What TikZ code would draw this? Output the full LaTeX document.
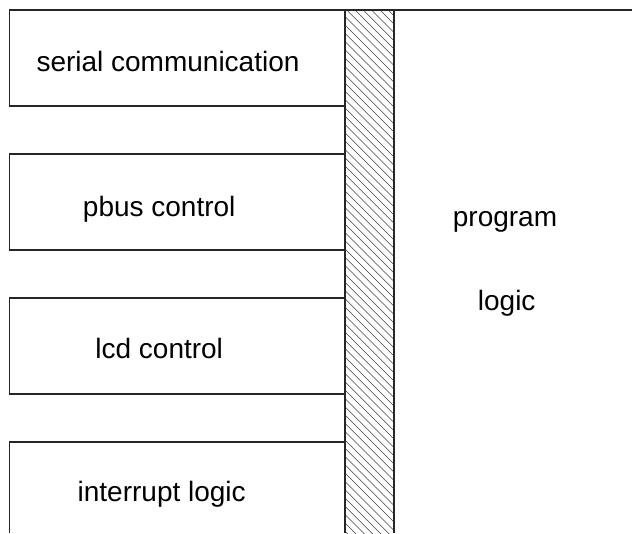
\documentclass[tikz,border=0pt]{standalone}
\usepackage{fontspec}
\setmainfont{Liberation Sans}
\begin{document}
\begin{tikzpicture}[x=1pt,y=-1pt,
  edge/.style={draw=black!85,line width=1.2pt},
  hatch/.style={draw=black!75,line width=0.55pt},
  lbl/.style={anchor=base,inner sep=0pt,font=\fontsize{28}{34}\selectfont}]
\useasboundingbox (0,0) rectangle (632,533);
% hatched bar
\begin{scope}
\clip (345,10) rectangle (394,533);
\foreach \k in {-66,...,6}
  \draw[hatch] ({346.7+8.3*\k},10) -- ++(540,540);
\end{scope}
% top line and bar edges
\draw[edge] (9.5,10) -- (632,10);
\draw[edge] (345,10) -- (345,533);
\draw[edge] (394,10) -- (394,533);
% boxes
\draw[edge] (345,10) -- (9.5,10) -- (9.5,106) -- (345,106);
\draw[edge] (345,154) -- (9.5,154) -- (9.5,250) -- (345,250);
\draw[edge] (345,298) -- (9.5,298) -- (9.5,394) -- (345,394);
\draw[edge] (345,442) -- (9.5,442) -- (9.5,533);
% labels
\node[lbl] (serial) at (168,71) {serial communication};
\node[lbl] (pbus) at (159.2,216) {pbus control};
\node[lbl] (lcd) at (159.2,358.3) {lcd control};
\node[lbl] (intr) at (161.7,501.7) {interrupt logic};
\node[lbl] (prog) at (505,226) {program};
\node[lbl] (logic) at (506.7,310) {logic};
\end{tikzpicture}
\end{document}
